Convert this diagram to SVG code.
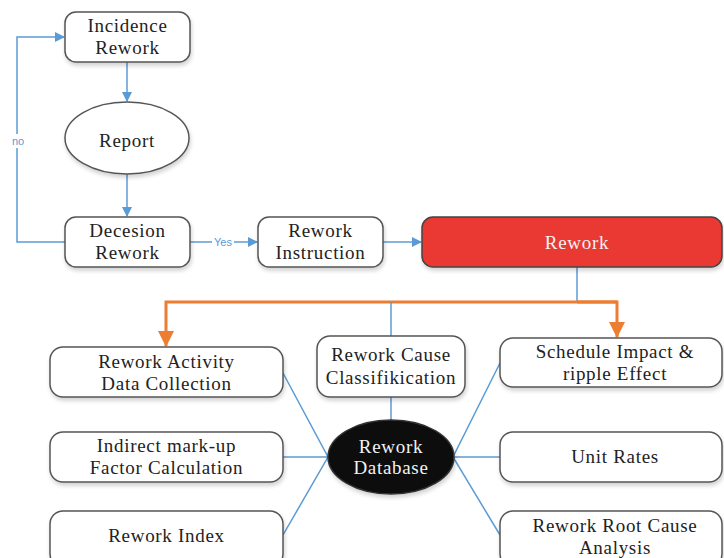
<svg xmlns="http://www.w3.org/2000/svg" width="724" height="558" viewBox="0 0 724 558">
<defs>
<filter id="sh" x="-10%" y="-10%" width="130%" height="140%">
<feGaussianBlur in="SourceAlpha" stdDeviation="2"/>
<feOffset dx="1" dy="3"/>
<feComponentTransfer><feFuncA type="linear" slope="0.18"/></feComponentTransfer>
<feMerge><feMergeNode/><feMergeNode in="SourceGraphic"/></feMerge>
</filter>
<marker id="ab" markerWidth="10" markerHeight="10" refX="9" refY="5" orient="auto" markerUnits="userSpaceOnUse">
<path d="M0,0 L10,5 L0,10 Z" fill="#5B9BD5"/>
</marker>
<marker id="ao" markerWidth="16" markerHeight="16" refX="15" refY="8" orient="auto" markerUnits="userSpaceOnUse">
<path d="M0,0 L16,8 L0,16 Z" fill="#ED7D31"/>
</marker>
</defs>
<style>
.box{fill:#fff;stroke:#555;stroke-width:1.5;filter:url(#sh)}
.t{font-family:"Liberation Serif","Times New Roman",serif;font-size:19px;letter-spacing:0.7px;fill:#222;text-anchor:middle}
.w{fill:#f2f2f2}
.b{fill:none;stroke:#5B9BD5;stroke-width:1.5}
.o{fill:none;stroke:#ED7D31;stroke-width:3}
.lbl{font-family:"Liberation Sans",Arial,sans-serif;font-size:11px;fill:#5B9BD5;text-anchor:middle}
</style>
<g id="connectors">
<path class="b" d="M127,62 V101" marker-end="url(#ab)"/>
<path class="b" d="M127,174 V216" marker-end="url(#ab)"/>
<path class="b" d="M65,242 H17 V148"/>
<path class="b" d="M17,134 V37 H64" marker-end="url(#ab)"/>
<text class="lbl" x="18" y="145">no</text>
<path class="b" d="M190,242 H212"/>
<path class="b" d="M234,242 H257" marker-end="url(#ab)"/>
<text class="lbl" x="223" y="246">Yes</text>
<path class="b" d="M383,242 H421" marker-end="url(#ab)"/>
<path class="b" d="M577,267 V302"/>
<path class="o" d="M617,302 H166 V346" marker-end="url(#ao)"/>
<path class="o" d="M577,302 H617 V337" marker-end="url(#ao)"/>
<path class="b" d="M391,302 V336"/>
<path class="b" d="M391,397 V420"/>
<path class="b" d="M283,373 L328,457 L283,535 M283,457 H328"/>
<path class="b" d="M500,363 L453,457 L500,535 M453,457 H500"/>
</g>
<g id="incidence-rework">
<rect class="box" x="65" y="12" width="125" height="50" rx="11"/>
<text class="t" x="127.5" y="32">Incidence</text>
<text class="t" x="127.5" y="54">Rework</text>
</g>
<g id="report">
<ellipse class="box" cx="127" cy="138" rx="62" ry="36"/>
<text class="t" x="127" y="147">Report</text>
</g>
<g id="decesion-rework">
<rect class="box" x="65" y="217" width="125" height="50" rx="11"/>
<text class="t" x="127.5" y="237">Decesion</text>
<text class="t" x="127.5" y="259">Rework</text>
</g>
<g id="rework-instruction">
<rect class="box" x="258" y="217" width="125" height="50" rx="11"/>
<text class="t" x="320.5" y="237">Rework</text>
<text class="t" x="320.5" y="259">Instruction</text>
</g>
<g id="rework">
<rect class="box" x="422" y="217" width="300" height="50" rx="11" style="fill:#EA3833;stroke:#444"/>
<text class="t w" x="577" y="249">Rework</text>
</g>
<g id="rework-activity">
<rect class="box" x="50" y="347" width="233" height="50" rx="13"/>
<text class="t" x="166.5" y="368">Rework Activity</text>
<text class="t" x="166.5" y="390">Data Collection</text>
</g>
<g id="rework-cause">
<rect class="box" x="317" y="336" width="148" height="61" rx="13"/>
<text class="t" x="391" y="361">Rework Cause</text>
<text class="t" x="391" y="384">Classifikication</text>
</g>
<g id="schedule-impact">
<rect class="box" x="500" y="338" width="222" height="49" rx="13"/>
<text class="t" x="615" y="358">Schedule Impact &amp;</text>
<text class="t" x="615" y="380">ripple Effect</text>
</g>
<g id="indirect-markup">
<rect class="box" x="50" y="432" width="233" height="50" rx="13"/>
<text class="t" x="166.5" y="452">Indirect mark-up</text>
<text class="t" x="166.5" y="474">Factor Calculation</text>
</g>
<g id="rework-database">
<ellipse cx="391" cy="457" rx="63" ry="37" fill="#0a0a0a" stroke="#333" stroke-width="1.5" filter="url(#sh)"/>
<text class="t w" x="391" y="453">Rework</text>
<text class="t w" x="391" y="474">Database</text>
</g>
<g id="unit-rates">
<rect class="box" x="500" y="432" width="222" height="50" rx="13"/>
<text class="t" x="615" y="463">Unit Rates</text>
</g>
<g id="rework-index">
<rect class="box" x="50" y="511" width="233" height="56" rx="13"/>
<text class="t" x="166.5" y="542">Rework Index</text>
</g>
<g id="root-cause">
<rect class="box" x="500" y="511" width="222" height="56" rx="13"/>
<text class="t" x="615" y="532">Rework Root Cause</text>
<text class="t" x="615" y="554">Analysis</text>
</g>
</svg>
